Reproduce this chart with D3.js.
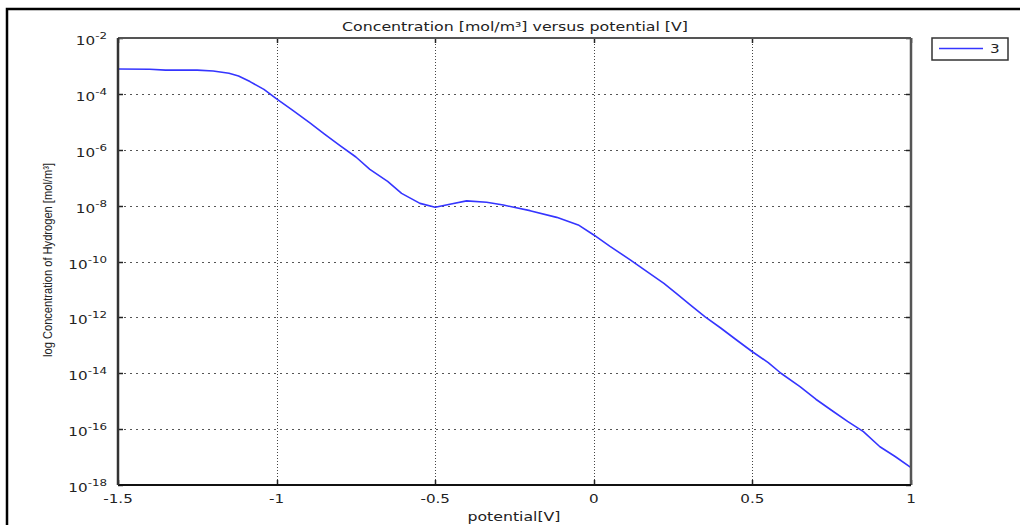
<!DOCTYPE html>
<html><head><meta charset="utf-8">
<script src="https://cdn.jsdelivr.net/npm/d3@7"></script>
<style>body{margin:0;background:#fff;}svg{display:block;}</style>
</head><body>
<svg id="c" width="1020" height="525"></svg>
<script>
const titleText = "Concentration [mol/m³] versus potential [V]";
const xLabel = "potential[V]";
const yLabel = "log Concentration of Hydrogen [mol/m³]";
const seriesName = "3";
const xTicks = [-1.5, -1, -0.5, 0, 0.5, 1];
const xTickLabels = ["-1.5", "-1", "-0.5", "0", "0.5", "1"];
const yTickExps = [-2, -4, -6, -8, -10, -12, -14, -16, -18];
const potential = [-1.5, -1.4, -1.35, -1.3, -1.25, -1.2, -1.15, -1.12, -1.084, -1.04, -1.0, -0.95, -0.895, -0.85, -0.8, -0.75, -0.706, -0.65, -0.606, -0.548, -0.5, -0.45, -0.401, -0.338, -0.285, -0.201, -0.117, -0.049, 0, 0.05, 0.116, 0.17, 0.221, 0.26, 0.305, 0.35, 0.4, 0.45, 0.5, 0.55, 0.59, 0.65, 0.7, 0.755, 0.8, 0.85, 0.902, 0.95, 1.0];
const logConc = [-3.11, -3.12, -3.15, -3.15, -3.15, -3.18, -3.26, -3.36, -3.56, -3.84, -4.18, -4.58, -5.04, -5.43, -5.85, -6.26, -6.70, -7.13, -7.56, -7.92, -8.06, -7.94, -7.83, -7.88, -7.98, -8.18, -8.42, -8.69, -9.05, -9.45, -9.95, -10.38, -10.78, -11.14, -11.56, -11.97, -12.38, -12.81, -13.23, -13.62, -14.0, -14.48, -14.93, -15.37, -15.72, -16.09, -16.63, -16.98, -17.38];

const svg = d3.select("#c");
const M = {l:118, t:38, r:911, b:485};
const x = d3.scaleLinear().domain([-1.5, 1]).range([M.l, M.r]);
const y = d3.scaleLog().domain([1e-18, 1e-2]).range([M.b, M.t]);

// outer frame
svg.append("rect").attr("x",7).attr("y",9).attr("width",1030).attr("height",540)
  .attr("fill","none").attr("stroke","#000").attr("stroke-width",2.5);

const font = "DejaVu Sans, Verdana, sans-serif";
const sx = 1.32;

// grid
const g = svg.append("g");
g.selectAll("line.vg").data(xTicks.slice(1,-1)).join("line")
  .attr("x1",d=>Math.round(x(d))+0.5).attr("x2",d=>Math.round(x(d))+0.5)
  .attr("y1",M.t).attr("y2",M.b)
  .attr("stroke","#444").attr("stroke-width",1).attr("stroke-dasharray","1,2");
g.selectAll("line.hg").data(yTickExps.slice(1,-1)).join("line")
  .attr("y1",d=>Math.round(y(Math.pow(10,d)))+0.5).attr("y2",d=>Math.round(y(Math.pow(10,d)))+0.5)
  .attr("x1",M.l).attr("x2",M.r)
  .attr("stroke","#555").attr("stroke-width",1).attr("stroke-dasharray","2,4");

// ticks (inward, all four sides)
const tk = 5;
xTicks.forEach(v=>{
  const px = Math.round(x(v))+0.5;
  svg.append("line").attr("x1",px).attr("x2",px).attr("y1",M.b).attr("y2",M.b-tk).attr("stroke","#222").attr("stroke-width",1.5);
  svg.append("line").attr("x1",px).attr("x2",px).attr("y1",M.t).attr("y2",M.t+tk).attr("stroke","#222").attr("stroke-width",1.5);
});
yTickExps.forEach(e=>{
  const py = Math.round(y(Math.pow(10,e)))+0.5;
  svg.append("line").attr("x1",M.l).attr("x2",M.l+tk).attr("y1",py).attr("y2",py).attr("stroke","#222").attr("stroke-width",1.5);
  svg.append("line").attr("x1",M.r).attr("x2",M.r-tk).attr("y1",py).attr("y2",py).attr("stroke","#222").attr("stroke-width",1.5);
});

// data line
const line = d3.line().x((d,i)=>x(potential[i])).y((d,i)=>y(Math.pow(10,logConc[i])));
svg.append("path").datum(logConc).attr("d",line).attr("fill","none")
  .attr("stroke","#3535ff").attr("stroke-width",1.6).attr("stroke-linejoin","round");

// plot frame
svg.append("line").attr("x1",M.l).attr("x2",M.r).attr("y1",M.t).attr("y2",M.t).attr("stroke","#555").attr("stroke-width",2);
svg.append("line").attr("x1",M.r).attr("x2",M.r).attr("y1",M.t).attr("y2",M.b).attr("stroke","#555").attr("stroke-width",2.5);
svg.append("line").attr("x1",M.l).attr("x2",M.r).attr("y1",M.b).attr("y2",M.b).attr("stroke","#111").attr("stroke-width",1.8);
svg.append("line").attr("x1",M.l).attr("x2",M.l).attr("y1",M.t).attr("y2",M.b).attr("stroke","#333").attr("stroke-width",2.5);

// x tick labels
xTicks.forEach((v,i)=>{
  svg.append("g").attr("transform",`translate(${x(v)},503) scale(${sx},1)`)
    .append("text").attr("text-anchor","middle")
    .attr("font-family",font).attr("font-size",11.5).attr("fill","#222")
    .text(xTickLabels[i]);
});

// y tick labels
yTickExps.forEach(e=>{
  const py = y(Math.pow(10,e));
  const t = svg.append("g").attr("transform",`translate(107,${py+7}) scale(${sx},1)`)
    .append("text").attr("text-anchor","end")
    .attr("font-family",font).attr("font-size",11.5).attr("fill","#222");
  t.append("tspan").text("10");
  t.append("tspan").attr("dy",-6).attr("font-size",9).text(String(e));
});

// title
svg.append("text").attr("x",515).attr("y",31).attr("text-anchor","middle")
  .attr("font-family",font).attr("font-size",12).attr("fill","#222")
  .attr("textLength",346).attr("lengthAdjust","spacingAndGlyphs").text(titleText);

// x label
svg.append("text").attr("x",514).attr("y",521).attr("text-anchor","middle")
  .attr("font-family",font).attr("font-size",12).attr("fill","#222")
  .attr("textLength",93).attr("lengthAdjust","spacingAndGlyphs").text(xLabel);

// y label
svg.append("text").attr("transform","translate(52,260) rotate(-90)").attr("text-anchor","middle")
  .attr("font-family","Liberation Sans Narrow, Liberation Sans, Arial, sans-serif").attr("font-size",13.5).attr("fill","#222")
  .attr("textLength",194).attr("lengthAdjust","spacingAndGlyphs").text(yLabel);

// legend
svg.append("rect").attr("x",932).attr("y",38).attr("width",76).attr("height",22)
  .attr("fill","#fff").attr("stroke","#333").attr("stroke-width",1.5);
svg.append("line").attr("x1",939).attr("x2",983).attr("y1",48.5).attr("y2",48.5).attr("stroke","#3535ff").attr("stroke-width",1.4);
svg.append("g").attr("transform",`translate(990,53) scale(${sx},1)`)
  .append("text").attr("font-family",font).attr("font-size",11.5).attr("fill","#222").text(seriesName);
</script>
</body></html>
